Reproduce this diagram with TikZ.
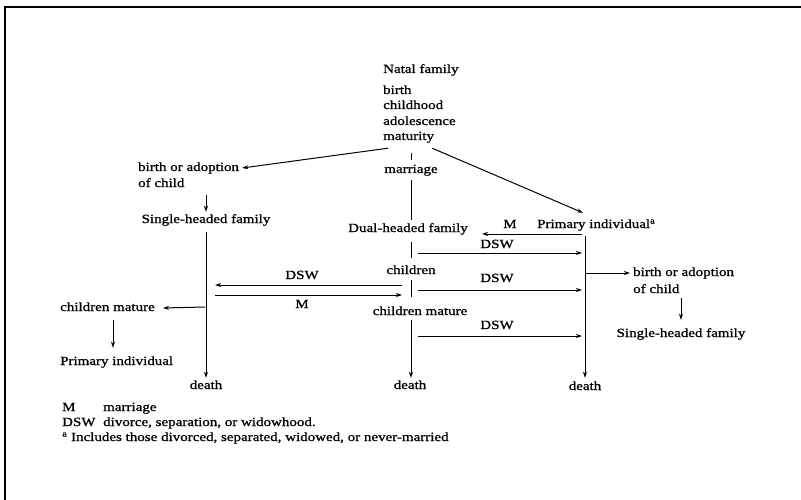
\documentclass[tikz,border=0pt]{standalone}
\usepackage{fontspec}
\setmainfont{Liberation Serif}[FakeStretch=1.2,FakeBold=1]
\usetikzlibrary{arrows.meta}
\begin{document}
\begin{tikzpicture}[x=1pt,y=-1pt,
  txt/.style={inner sep=0pt, text height=9pt, text depth=3pt,
              font=\fontsize{12.5}{15}\selectfont},
  lft/.style={txt, anchor=west},
  ln/.style={line width=1pt},
  arr/.style={ln, -{Stealth[length=6pt,width=4pt]}},
]
\useasboundingbox (0,0) rectangle (801,500);

% frame (top and left rules)
\draw[line width=1.6pt] (5,500) -- (5,7) -- (801,7);

% natal family block
\node[lft] (natal) at (383,70)  {Natal family};
\node[lft] (birth) at (383,91)  {birth};
\node[lft] (child) at (383,106) {childhood};
\node[lft] (adol)  at (383,122) {adolescence};
\node[lft] (mat)   at (383,137) {maturity};

% central column
\node[txt] (marr) at (411,170) {marriage};
\node[txt] (dual) at (408,229) {Dual-headed family};
\node[txt] (chn)  at (411,271) {children};
\node[txt] (cmat) at (420,312) {children mature};
\node[txt] (dthC) at (410,386) {death};

% right column
\node[lft] (prim) at (537,225) {Primary individual\textsuperscript{a}};
\node[txt] (dthR) at (585,387) {death};
\node[lft] (rboa) at (633,273) {birth or adoption};
\node[lft] (rofc) at (633,290) {of child};
\node[txt] (sgR)  at (681,334) {Single-headed family};

% left column
\node[lft] (lboa)  at (138,168) {birth or adoption};
\node[lft] (lofc)  at (138,184) {of child};
\node[txt] (sgL)   at (206,220) {Single-headed family};
\node[txt] (dthL)  at (206,386) {death};
\node[lft] (cmL)   at (60,308)  {children mature};
\node[lft] (primL) at (60,362)  {Primary individual};

% transition labels
\node[txt] (mR)   at (510,225) {M};
\node[txt] (dsw1) at (497,245) {DSW};
\node[txt] (dsw2) at (497,279) {DSW};
\node[txt] (dsw3) at (497,326) {DSW};
\node[txt] (dswL) at (302,276) {DSW};
\node[txt] (mL)   at (302,305) {M};

% key
\node[lft] (kM)    at (62,408)  {M};
\node[lft] (kMt)   at (103,408) {marriage};
\node[lft] (kD)    at (62,423)  {DSW};
\node[lft] (kDt)   at (103,423) {divorce, separation, or widowhood.};
\node[lft] (kNote) at (62,438)  {\textsuperscript{a} Includes those divorced, separated, widowed, or never-married};

% ends of the arrows running between columns
\coordinate (mA) at (582,234);  \coordinate (mB) at (482,234);
\coordinate (d1A) at (418,253); \coordinate (d1B) at (582,253);
\coordinate (d2A) at (418,290); \coordinate (d2B) at (582,290);
\coordinate (d3A) at (418,336); \coordinate (d3B) at (582,336);
\coordinate (dLA) at (402,285); \coordinate (dLB) at (215,285);
\coordinate (mLA) at (215,295); \coordinate (mLB) at (402,295);
\coordinate (rBr) at (585,273);
\coordinate (lBr) at (205,307);

% central column connectors
\draw[ln, shorten <=10pt, shorten >=4pt] (mat.south -| marr.center) -- (marr.north);
\draw[ln, shorten <=4pt, shorten >=3pt] (marr.south) -- (dual.north -| marr.center);
\draw[ln, shorten <=7pt, shorten >=7pt] (dual.south -| marr.center) -- (chn.north);
\draw[ln, shorten <=3pt, shorten >=9pt] (chn.south) -- (cmat.north -| marr.center);
\draw[arr, shorten <=2pt, shorten >=2pt] (cmat.south -| marr.center) -- (dthC.north -| marr.center);

% from maturity
\draw[arr] ([xshift=5pt,yshift=-5pt]mat.south west) -- ([xshift=3pt]lboa.east);
\draw[arr] ([xshift=-2pt,yshift=-5pt]mat.south east) -- ([xshift=46pt,yshift=6pt]prim.north west);

% right column connectors
\draw[arr, shorten <=5pt, shorten >=3pt] (prim.south -| dthR.north) -- (dthR.north);
\draw[arr] (rBr) -- ([xshift=-3pt]rboa.west);
\draw[arr, shorten <=2pt, shorten >=8pt] (rofc.south -| sgR.north) -- (sgR.north);

% left column connectors
\draw[arr, shorten <=5pt, shorten >=2pt] (lofc.south -| sgL.north) -- (sgL.north);
\draw[arr, shorten <=6pt, shorten >=2pt] (sgL.south) -- (sgL.south |- dthL.north);
\draw[arr] (lBr) -- ([xshift=8pt]cmL.east);
\draw[arr, shorten <=6pt, shorten >=8pt] ([xshift=53pt]cmL.south west) -- ([xshift=53pt]primL.north west);

% marriage and DSW transitions
\draw[arr] (mA) -- (mB);
\draw[arr] (d1A) -- (d1B);
\draw[arr] (d2A) -- (d2B);
\draw[arr] (d3A) -- (d3B);
\draw[arr] (dLA) -- (dLB);
\draw[arr] (mLA) -- (mLB);
\end{tikzpicture}
\end{document}
